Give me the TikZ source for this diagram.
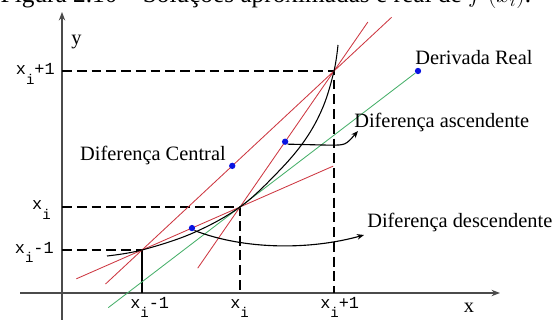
\documentclass[tikz,border=0pt]{standalone}
\usepackage{fontspec}
\setmainfont{Liberation Serif}
\setmonofont{Liberation Mono}
\usetikzlibrary{calc, arrows.meta}
\definecolor{lnRed}{RGB}{205, 55, 65}
\definecolor{lnGreen}{RGB}{ 70,175,105}
\definecolor{dotBlue}{RGB}{ 10, 20,225}
\definecolor{axGray}{RGB}{ 75, 75, 75}
\newcommand{\xsub}[1]{\texttt{x\raisebox{-0.55em}{\fontsize{10}{10}\selectfont i}#1}}

\begin{document}
\begin{tikzpicture}[x=0.025cm, y=-0.025cm,
  axis/.style={draw=axGray, line width=1.2pt, -{Stealth[length=6pt,width=4.5pt]}},
  guide/.style={line width=0.8pt, dash pattern=on 7pt off 3.5pt},
  secant/.style={lnRed, line width=0.6pt},
  tangent/.style={lnGreen, line width=0.6pt},
  pt/.style={circle, fill=dotBlue, inner sep=0pt, minimum size=4.5pt},
  lbl/.style={font=\fontsize{14.5}{17}\selectfont, inner sep=0pt},
  tick/.style={font=\fontsize{12}{14}\selectfont, inner sep=0pt},
  callout/.style={line width=0.8pt, -{Stealth[length=5pt,width=4pt]}}
]
\useasboundingbox (0,0) rectangle (558,320);

\node[anchor=base, font=\fontsize{18}{20}\selectfont, inner sep=0pt] (cap) at (266,3)
  {Figura 2.10 -- Soluções aproximadas e real de $f'(x_i)$.};

\coordinate (o)  at (62,293);
\coordinate (p0) at (142,250);
\coordinate (p1) at (240,207);
\coordinate (p2) at (334,71);

% eixos
\coordinate (xs) at (20,293);
\coordinate (xe) at (500,293);
\coordinate (ys) at (62,322);
\coordinate (ye) at (62,12);
\draw[axis] (xs) -- (xe);
\draw[axis] (ys) -- (ye);
\node[lbl, anchor=base west] (ylab) at (71,45) {y};
\node[lbl, anchor=base] (xlab) at (469,312) {x};

% guias
\draw[guide] (p2 -| o) -- (p2) -- (p2 |- o);
\draw[guide] (p1 -| o) -- (p1) -- (p1 |- o);
\draw[guide] (p0 -| o) -- (p0);
\draw[line width=0.8pt] (p0) -- (p0 |- o);

\node[tick, anchor=base east] (y2) at (55,75)  {\xsub{+1}};
\node[tick, anchor=base east] (y1) at (51,210) {\xsub{}};
\node[tick, anchor=base east] (y0) at (54,253) {\xsub{-1}};
\node[tick, anchor=base west] (x0) at (130,308) {\xsub{-1}};
\node[tick, anchor=base west] (x1) at (230,308) {\xsub{}};
\node[tick, anchor=base west] (x2) at (320,308) {\xsub{+1}};

% retas
\node[pt] (dr) at (418,71) {};
\draw[secant] ($(p0)!-0.19!(p2)$) -- ($(p2)!-0.3!(p0)$);
\draw[secant] ($(p1)!-0.45!(p2)$) -- ($(p2)!-0.36!(p1)$);
\draw[secant] ($(p0)!-0.67!(p1)$) -- ($(p0)!1.95!(p1)$);
\draw[tangent] ($(p1)!-0.74!(dr)$) -- (dr);

% funcao
\draw[line width=0.75pt] plot[smooth, tension=0.6] coordinates
  {(107,256) (p0) (193,233) (p1) (278,172) (305,140) (323,107) (p2) (338,45)};

\node[pt] (dc) at ($(p0)!0.47!(p2)$) {};
\node[pt] (da) at ($(p1)!0.48!(p2)$) {};
\node[pt] (dd) at ($(p0)!0.51!(p1)$) {};

\node[lbl, anchor=east] (tc) at (226,155) {Diferença Central};
\node[lbl, anchor=west] (tr) at (415,58)  {Derivada Real};
\node[lbl, anchor=west] (ta) at (354,122) {Diferença ascendente};
\node[lbl, anchor=west] (td) at (367,222) {Diferença descendente};

\coordinate (ae) at (358,131);
\coordinate (de) at (364,235);
\draw[callout] (da.south east) -- ++(42,1) .. controls +(16,0) .. (ae);
\draw[callout] (dd.south east) .. controls (245,250) and (310,250) .. (de);
\end{tikzpicture}
\end{document}
